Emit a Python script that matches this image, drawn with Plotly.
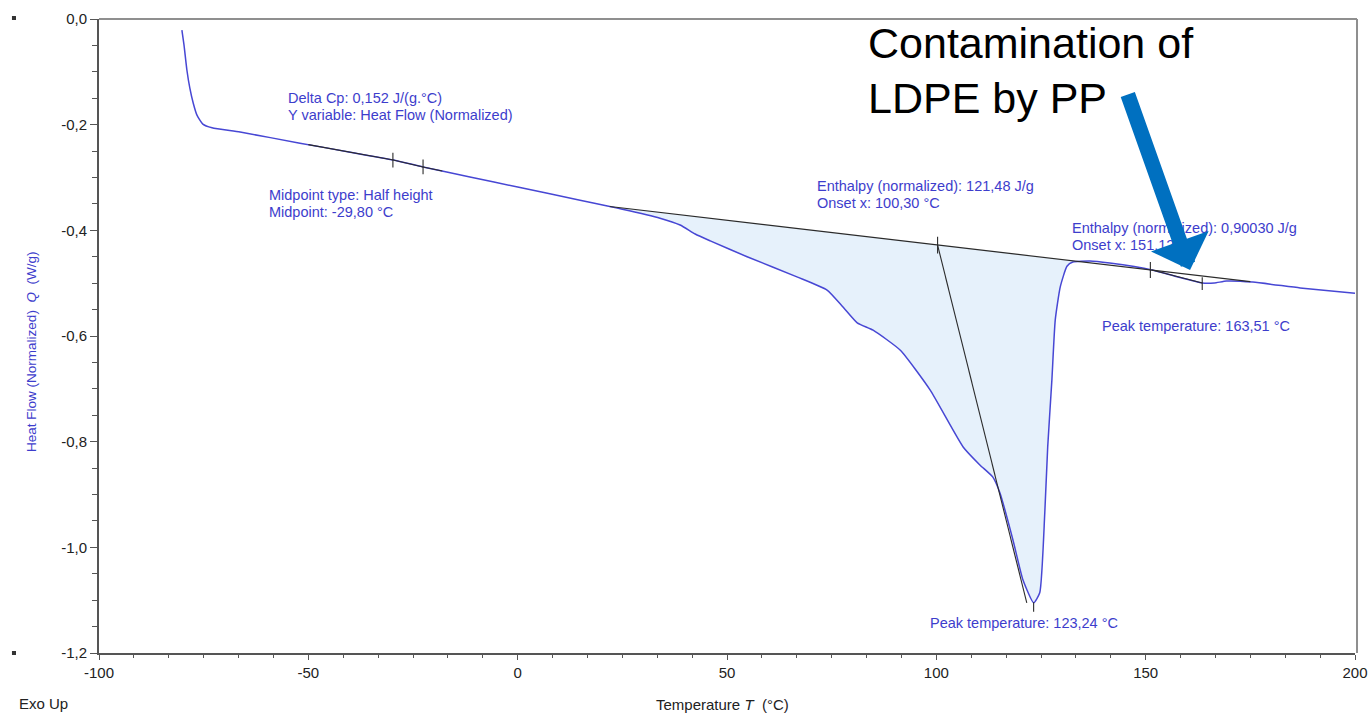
import numpy as np
import plotly.graph_objects as go

# DSC heating curve: temperature (°C) and normalized heat flow (W/g)
temperature = [-80.2, -79.7, -79.0, -78.3, -77.5, -76.6, -75.2, -73.0, -66.3, -52.0,
               -40.0, -29.7, -22.6, -11.4, 0.0, 14.9, 22.0, 25.0, 34.0, 38.8, 42.4,
               46.0, 54.8, 66.7, 73.9, 77.7, 81.1, 84.9, 91.4, 98.5, 106.4, 110.4,
               113.5, 115.2, 118.3, 120.7, 123.24, 124.7, 125.9, 126.6, 127.6, 128.4,
               129.6, 131.2, 132.6, 136.7, 141.4, 151.5, 157.5, 163.51, 166.4, 169.3,
               175.6, 186.9, 200.0]
heat_flow = [-0.021, -0.049, -0.097, -0.131, -0.159, -0.182, -0.199, -0.206, -0.214, -0.235,
             -0.252, -0.267, -0.280, -0.299, -0.318, -0.343, -0.355, -0.360, -0.377, -0.390, -0.407,
             -0.420, -0.450, -0.488, -0.513, -0.545, -0.575, -0.589, -0.627, -0.702, -0.810, -0.844,
             -0.867, -0.897, -0.986, -1.062, -1.105, -1.086, -0.935, -0.810, -0.683, -0.570,
             -0.507, -0.468, -0.460, -0.458, -0.462, -0.475, -0.488, -0.4997, -0.4997, -0.496,
             -0.498, -0.509, -0.519]

# Integration baseline of the melting peaks
baseline_T = [22.0, 175.0]
baseline_Q = [-0.355, -0.497]
fill_end_T = 137.0

# Onset tangent of the LDPE melting peak
onset_T = [100.3, 121.6]
onset_Q = [-0.428, -1.105]

# Glass transition tangent region
glass_T = [-50.0, -18.0]

# Event markers: (temperature, heat flow, half length)
markers_T = [-29.8, -22.6, 100.3, 151.12, 163.51, 123.24]
markers_Q = [-0.267, -0.280, -0.428, -0.475, -0.501, -1.113]
markers_h = [0.014, 0.014, 0.016, 0.015, 0.012, 0.009]

x_ticks = [-100, -50, 0, 50, 100, 150, 200]
x_ticktext = ["-100", "-50", "0", "50", "100", "150", "200"]
y_ticks = [0.0, -0.2, -0.4, -0.6, -0.8, -1.0, -1.2]
y_ticktext = ["0,0", "-0,2", "-0,4", "-0,6", "-0,8", "-1,0", "-1,2"]

T = np.array(temperature)
Q = np.array(heat_flow)


def baseline_at(t):
    return np.interp(t, baseline_T, baseline_Q)


CURVE = "#4747d4"
TEXT = "#3d3dcc"
DARK = "#2b2b2b"
FONT = "Liberation Sans, Arial, sans-serif"

fig = go.Figure()

# shaded melting area between baseline and curve
m = (T > baseline_T[0]) & (T < fill_end_T)
fx = [baseline_T[0]] + list(T[m]) + [fill_end_T, baseline_T[0]]
fy = [baseline_at(baseline_T[0])] + list(Q[m]) + [baseline_at(fill_end_T), baseline_at(baseline_T[0])]
fig.add_trace(go.Scatter(x=fx, y=fy, mode="lines", fill="toself",
                         fillcolor="#e6f1fb", line=dict(width=0),
                         hoverinfo="skip", showlegend=False))

# heat flow curve
fig.add_trace(go.Scatter(x=T, y=Q, mode="lines",
                         line=dict(color=CURVE, width=1.5, shape="spline", smoothing=0.5),
                         showlegend=False))

# baseline
fig.add_trace(go.Scatter(x=baseline_T, y=baseline_Q, mode="lines",
                         line=dict(color=DARK, width=1.1), showlegend=False))

# onset tangent
fig.add_trace(go.Scatter(x=onset_T, y=onset_Q, mode="lines",
                         line=dict(color=DARK, width=1.1), showlegend=False))

# glass transition tangent overlay
g = (T >= glass_T[0]) & (T <= glass_T[1])
gx = [glass_T[0]] + list(T[g]) + [glass_T[1]]
gy = list(np.interp(gx, T, Q))
fig.add_trace(go.Scatter(x=gx, y=gy, mode="lines",
                         line=dict(color=DARK, width=1.1), showlegend=False))

# PP melting segment overlay
p = (T >= 151.5) & (T <= 163.51)
fig.add_trace(go.Scatter(x=T[p], y=Q[p], mode="lines",
                         line=dict(color=DARK, width=1.1), showlegend=False))

# event markers as short vertical ticks
mx, my = [], []
for t, q, h in zip(markers_T, markers_Q, markers_h):
    mx += [t, t, None]
    my += [q + h, q - h, None]
fig.add_trace(go.Scatter(x=mx, y=my, mode="lines",
                         line=dict(color=DARK, width=1.1), showlegend=False))

ann = []


def label(x, y, text, color=TEXT, size=14.5, xref="x", yref="y", **kw):
    ann.append(dict(x=x, y=y, xref=xref, yref=yref, text=text, showarrow=False,
                    xanchor=kw.pop("xanchor", "left"), yanchor=kw.pop("yanchor", "middle"),
                    font=dict(family=FONT, size=size, color=color), **kw))


label(-55.3, -0.1495, "Delta Cp: 0,152 J/(g.°C)")
label(-55.3, -0.1817, "Y variable: Heat Flow (Normalized)")
label(-59.8, -0.333, "Midpoint type: Half height")
label(-59.8, -0.365, "Midpoint: -29,80 °C")
label(71.0, -0.316, "Enthalpy (normalized): 121,48 J/g")
label(71.0, -0.348, "Onset x: 100,30 °C")
label(131.9, -0.3956, "Enthalpy (normalized): 0,90030 J/g")
label(131.9, -0.4278, "Onset x: 151,12 °C")
label(139.1, -0.581, "Peak temperature: 163,51 °C")
label(98.0, -1.143, "Peak temperature: 123,24 °C")

# callout
label(0.611, 1.0 - 24.5 / 634, "Contamination of", color="black", size=43,
      xref="paper", yref="paper")
label(0.611, 1.0 - 78.5 / 634, "LDPE by PP", color="black", size=43,
      xref="paper", yref="paper")
ann.append(dict(x=160.6, y=-0.4751, ax=145.6, ay=-0.1400, xref="x", yref="y",
                axref="x", ayref="y", text="", showarrow=True, arrowhead=1,
                arrowsize=0.68, arrowwidth=15, arrowcolor="#0070C0"))

# axis titles and corner label
label(-0.0533, 0.475, "Heat Flow (Normalized)  <i>Q</i>  (W/g)", color=TEXT, size=13.5,
      xref="paper", yref="paper", xanchor="center", textangle=-90)
label(0.4968, -0.082, "Temperature <i>T</i>  (°C)", color="#222222", size=15,
      xref="paper", yref="paper", xanchor="center")
label(-0.0655, -0.079, "Exo Up", color="#222222", size=15,
      xref="paper", yref="paper")

shapes = [
    dict(type="line", xref="paper", yref="paper", x0=0, x1=1.0016, y0=1.0, y1=1.0,
         line=dict(color="#8f8f8f", width=2)),
    dict(type="line", xref="paper", yref="paper", x0=1.0016, x1=1.0016, y0=0, y1=1.0,
         line=dict(color="#8f8f8f", width=2)),
    dict(type="rect", xref="paper", yref="paper", x0=-0.0693, x1=-0.0661,
         y0=0.9984, y1=1.0047, fillcolor="#333333", line=dict(width=0)),
    dict(type="rect", xref="paper", yref="paper", x0=-0.0693, x1=-0.0661,
         y0=-0.0032, y1=0.0032, fillcolor="#333333", line=dict(width=0)),
]

fig.update_layout(
    width=1372, height=714,
    margin=dict(l=99, r=17, t=19, b=61),
    paper_bgcolor="white", plot_bgcolor="white",
    font=dict(family=FONT, size=15, color="#222222"),
    annotations=ann, shapes=shapes, showlegend=False,
)
fig.update_xaxes(range=[-100, 200], tickvals=x_ticks, ticktext=x_ticktext,
                 automargin=False, ticklabeloverflow="allow",
                 showgrid=False, zeroline=False, showline=True, linecolor="#555555",
                 linewidth=2, ticks="outside", ticklen=5, tickcolor="#555555",
                 tickfont=dict(size=15, color="#222222"),
                 minor=dict(dtick=50 / 6, tick0=-100, ticks="outside", ticklen=3,
                            tickcolor="#555555", showgrid=False))
fig.update_yaxes(range=[-1.2, 0.0], tickvals=y_ticks, ticktext=y_ticktext,
                 automargin=False,
                 showgrid=False, zeroline=False, showline=True, linecolor="#555555",
                 linewidth=2, ticks="outside", ticklen=7, tickcolor="#555555",
                 tickfont=dict(size=15, color="#222222"),
                 minor=dict(dtick=0.05, tick0=0, ticks="outside", ticklen=5,
                            tickcolor="#555555", showgrid=False))

fig.write_html("out.html")
